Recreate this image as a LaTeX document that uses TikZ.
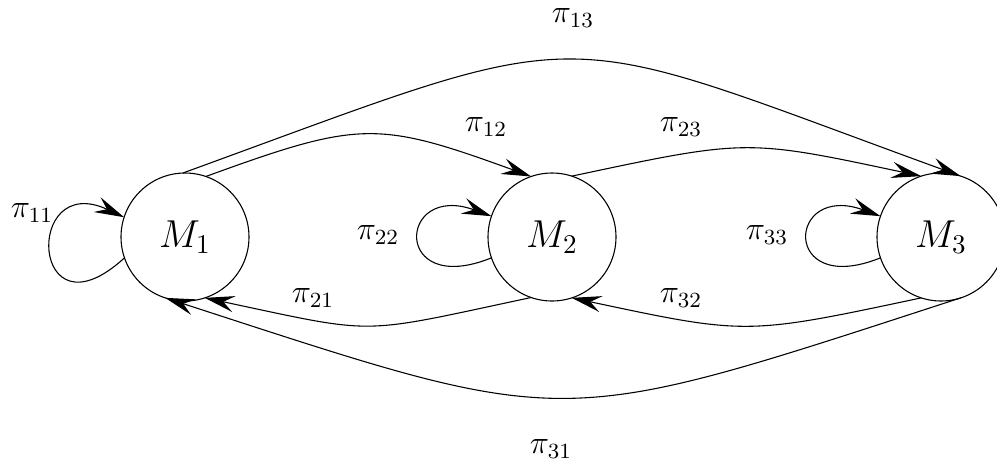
\documentclass[tikz,border=0pt]{standalone}
\usepackage{amsmath,amssymb}
\usepackage{tikz}
\usetikzlibrary{arrows.meta, positioning}

\begin{document}
\begin{tikzpicture}[>={Stealth[length=11pt,width=6pt,inset=4pt]},
        mstate/.style={circle, draw, minimum size=1.664cm, inner sep=0pt, outer sep=0pt, font=\Large},
        prob/.style={font=\fontsize{11.5}{14}\selectfont, inner sep=0pt}]
        % Khung hình
        \useasboundingbox (0,0) rectangle (12.961,6.032);
        
        % Ba trạng thái
        \node[mstate] (M1) at (2.405,2.951) {$M_1$};
        \node[mstate] (M2) at (7.176,2.951) {$M_2$};
        \node[mstate] (M3) at (12.233,2.951) {$M_3$};
        
        % Vòng lặp tại mỗi trạng thái
        \draw[->] (M1.199.5) .. controls +(222.5:1.66) and +(155:1.45) .. (M1.162.6);
        \draw[->] (M2.199.5) .. controls +(202:1.4) and +(160:1.3) .. (M2.161);
        \draw[->] (M3.199.5) .. controls +(202:1.4) and +(160:1.3) .. (M3.161);
        
        % Chuyển sang phải (phía trên)
        \draw[->] (M1.71) .. controls +(20:2.13) and +(160:2.13) .. (M2.109);
        \draw[->] (M2.72) .. controls +(12:2.33) and +(168:2.33) .. (M3.108);
        \draw[->] (M1.92) .. controls +(20:5.82) and +(160:5.82) .. (M3.72);
        
        % Chuyển sang trái (phía dưới)
        \draw[->] (M2.251.5) .. controls +(192:2.33) and +(348:2.33) .. (M1.288.5);
        \draw[->] (M3.252) .. controls +(192:2.33) and +(348:2.33) .. (M2.288);
        \draw[->] (M3.288) .. controls +(198:5.6) and +(342:5.6) .. (M1.252);
        
        % Nhãn xác suất chuyển
        \node[prob] (p11) at (0.416,3.263) {$\pi_{11}$};
        \node[prob] (p22) at (4.914,2.977) {$\pi_{22}$};
        \node[prob] (p33) at (9.971,2.977) {$\pi_{33}$};
        \node[prob] (p12) at (6.318,4.381) {$\pi_{12}$};
        \node[prob] (p23) at (8.853,4.381) {$\pi_{23}$};
        \node[prob] (p13) at (7.449,5.798) {$\pi_{13}$};
        \node[prob] (p21) at (4.069,2.158) {$\pi_{21}$};
        \node[prob] (p32) at (8.853,2.158) {$\pi_{32}$};
        \node[prob] (p31) at (7.163,0.195) {$\pi_{31}$};
    \end{tikzpicture}
\end{document}
